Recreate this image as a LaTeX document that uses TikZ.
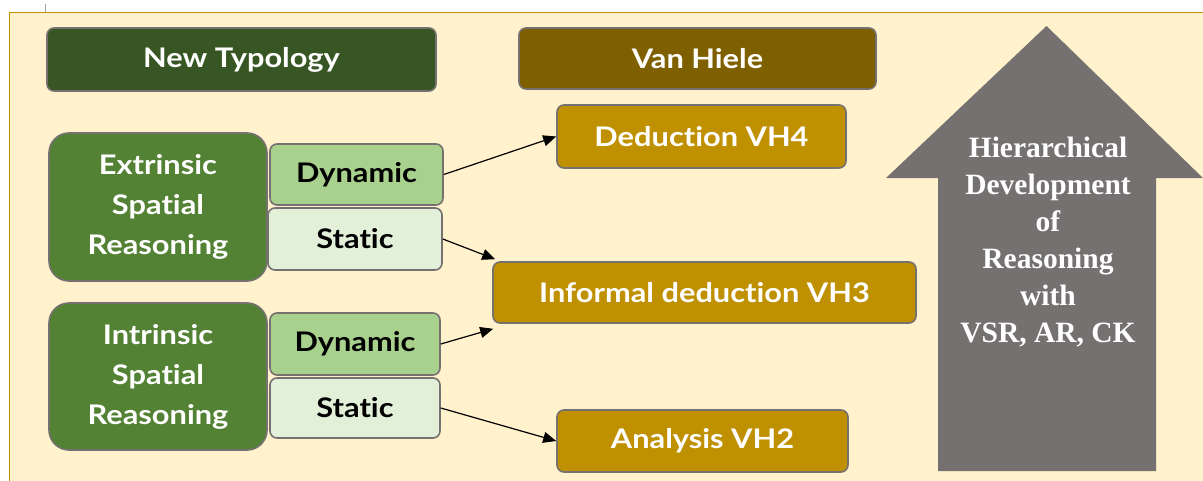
\documentclass[tikz,border=0pt]{standalone}
\usepackage{fontspec}
\usetikzlibrary{arrows.meta}
\newfontfamily\bxfont{Lato}[FakeStretch=1.14, Ligatures=NoCommon]
\newfontfamily\serfont{Liberation Serif}
\definecolor{cream}{HTML}{FFF2CC}
\definecolor{gold}{HTML}{BF9000}
\definecolor{dkgreen}{HTML}{375623}
\definecolor{midgreen}{HTML}{548235}
\definecolor{ltgreen}{HTML}{A9D18E}
\definecolor{palegreen}{HTML}{E2F0D9}
\definecolor{brown}{HTML}{7F6000}
\definecolor{bordergray}{HTML}{767171}
\definecolor{arrowgray}{HTML}{767171}
\tikzset{
  base/.style={draw=bordergray, line width=1.6pt, rounded corners=7pt, inner sep=0pt, align=center,
    font=\bxfont\bfseries\fontsize{27}{40}\selectfont},
  header/.style={base, text=white},
  bigbox/.style={base, fill=midgreen, text=white, rounded corners=20pt},
  dynbox/.style={base, fill=ltgreen, text=black},
  stabox/.style={base, fill=palegreen, text=black},
  vhbox/.style={base, fill=gold, text=white},
  conn/.style={line width=1.2pt, -{Triangle[length=13pt,width=11pt]}}
}
\begin{document}
\begin{tikzpicture}[x=1pt,y=-1pt]
\useasboundingbox (0,0) rectangle (1203,480);
\fill[white] (0,0) rectangle (1203,480);
\draw[gold, line width=1.5pt, fill=cream] (9.5,12.5) rectangle (1215,495);
\draw[bordergray!70, line width=0.8pt] (45,4) -- (45,12);
% headers
\node[header, fill=dkgreen, minimum width=389pt, minimum height=63pt] (nt) at (241.5,59.5) {New Typology};
\node[header, fill=brown, minimum width=357pt, minimum height=61pt] (vh) at (697.5,58.5) {Van Hiele};
% left column
\node[bigbox, minimum width=218pt, minimum height=148pt] (ext) at (158,207) {Extrinsic\\Spatial\\Reasoning};
\node[dynbox, minimum width=173pt, minimum height=61pt] (d1) at (356.5,174.5) {Dynamic};
\node[stabox, minimum width=174pt, minimum height=62pt] (s1) at (355,239) {Static};
\node[bigbox, minimum width=218pt, minimum height=147pt] (int) at (158,376.5) {Intrinsic\\Spatial\\Reasoning};
\node[dynbox, minimum width=170pt, minimum height=62pt] (d2) at (355,344) {Dynamic};
\node[stabox, minimum width=170pt, minimum height=60pt] (s2) at (355,408) {Static};
% van hiele levels
\node[vhbox, minimum width=289pt, minimum height=63pt] (ded) at (701.5,136.5) {Deduction VH4};
\node[vhbox, minimum width=423pt, minimum height=61pt] (inf) at (704.5,292.5) {Informal deduction VH3};
\node[vhbox, minimum width=291pt, minimum height=62pt] (ana) at (702.5,441) {Analysis VH2};
% connectors
\draw[conn] (d1.east) -- (ded.west);
\draw[conn] (s1.east) -- ([xshift=3pt,yshift=2pt]inf.north west);
\draw[conn] (d2.east) -- ([xshift=1pt,yshift=-5pt]inf.south west);
\draw[conn] (s2.east) -- (ana.west);
% big arrow
\fill[arrowgray] (938,471) -- (938,178) -- (886,178) -- (1046.5,26) -- (1203,178) -- (1156,178) -- (1156,471) -- cycle;
\node[text=white, align=center, inner sep=0pt, font=\serfont\bfseries\fontsize{29.5}{37}\selectfont] (hd) at (1048,242)
  {Hierarchical\\Development\\of\\Reasoning\\with\\VSR, AR, CK};
\end{tikzpicture}
\end{document}
